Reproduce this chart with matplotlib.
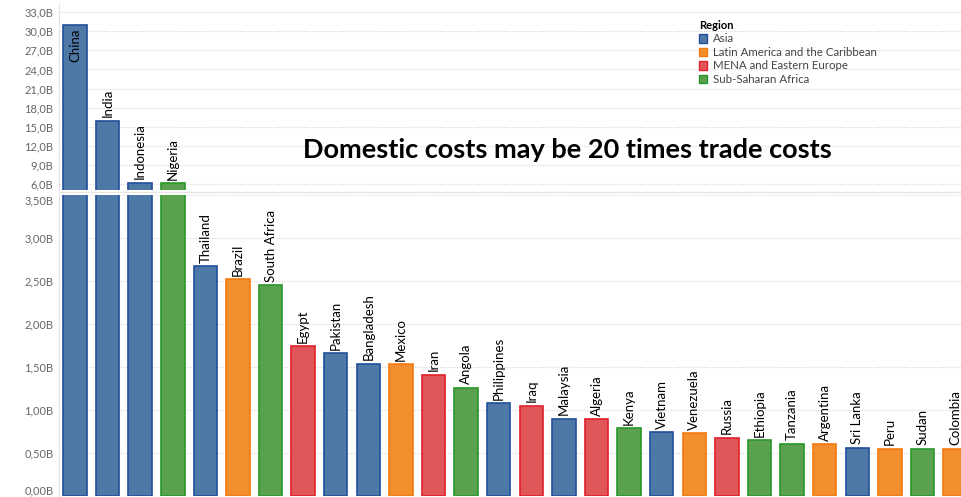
import matplotlib.pyplot as plt
from matplotlib.patches import Patch
from matplotlib.ticker import FixedLocator, FuncFormatter

plt.rcParams['font.family'] = ['Lato', 'DejaVu Sans']

countries = ['China', 'India', 'Indonesia', 'Nigeria', 'Thailand', 'Brazil', 'South Africa',
             'Egypt', 'Pakistan', 'Bangladesh', 'Mexico', 'Iran', 'Angola', 'Philippines',
             'Iraq', 'Malaysia', 'Algeria', 'Kenya', 'Vietnam', 'Venezuela', 'Russia',
             'Ethiopia', 'Tanzania', 'Argentina', 'Sri Lanka', 'Peru', 'Sudan', 'Colombia']
regions = ['Asia', 'Asia', 'Asia', 'SSA', 'Asia', 'LAC', 'SSA',
           'MENA', 'Asia', 'Asia', 'LAC', 'MENA', 'SSA', 'Asia',
           'MENA', 'Asia', 'MENA', 'SSA', 'Asia', 'LAC', 'MENA',
           'SSA', 'SSA', 'LAC', 'Asia', 'LAC', 'SSA', 'LAC']
# costs in billions
values = [31.07, 15.94, 6.2, 6.1, 2.67, 2.52, 2.45,
          1.74, 1.66, 1.54, 1.53, 1.41, 1.26, 1.08,
          1.05, 0.90, 0.89, 0.79, 0.74, 0.73, 0.68,
          0.65, 0.61, 0.60, 0.56, 0.55, 0.55, 0.55]

region_names = {'Asia': 'Asia', 'LAC': 'Latin America and the Caribbean',
                'MENA': 'MENA and Eastern Europe', 'SSA': 'Sub-Saharan Africa'}
fills = {'Asia': '#4e79a7', 'LAC': '#f28e2b', 'MENA': '#e15759', 'SSA': '#59a14f'}
edges = {'Asia': '#1f4f9a', 'LAC': '#f27a10', 'MENA': '#e0202a', 'SSA': '#2a962a'}

top_ticks = [6, 9, 12, 15, 18, 21, 24, 27, 30, 33]
bot_ticks = [0, 0.5, 1.0, 1.5, 2.0, 2.5, 3.0, 3.5]

W, H = 961, 497
fig = plt.figure(figsize=(W / 100, H / 100), dpi=100)


def box(l, t, r, b):
    return [l / W, 1 - b / H, (r - l) / W, (b - t) / H]


ax_top = fig.add_axes(box(59, 4, 961, 190))
ax_bot = fig.add_axes(box(59, 195, 961, 496))

x = list(range(len(countries)))
fc = [fills[r] for r in regions]
ec = [edges[r] for r in regions]

for ax in (ax_top, ax_bot):
    ax.bar(x, values, width=0.72, color=fc, edgecolor=ec, linewidth=1.2, zorder=2)
    ax.set_xlim(-0.49, 27.18)
    ax.set_xticks([])
    ax.yaxis.grid(True, color='#d4d4d4', linestyle=(0, (1, 1.5)), linewidth=0.8)
    ax.set_axisbelow(True)
    for s in ('top', 'right', 'bottom'):
        ax.spines[s].set_visible(False)
    ax.spines['left'].set_color('#e2e2e2')
    ax.tick_params(axis='y', length=0, labelsize=8, labelcolor='#666666', pad=4)

ax_top.set_ylim(5.05, 34.3)
ax_top.yaxis.set_major_locator(FixedLocator(top_ticks))
ax_top.yaxis.set_major_formatter(FuncFormatter(lambda v, p: f'{v:.1f}B'.replace('.', ',')))

ax_bot.set_ylim(0, 3.5)
ax_bot.yaxis.set_major_locator(FixedLocator(bot_ticks))
ax_bot.yaxis.set_major_formatter(FuncFormatter(lambda v, p: f'{v:.2f}B'.replace('.', ',')))

# keep the end labels of the lower scale inside the panel
fig.canvas.draw()
ylabels = ax_bot.get_yticklabels()
ylabels[0].set_verticalalignment('bottom')
ylabels[-1].set_verticalalignment('top')

# country names on top of each bar
for i, (name, v) in enumerate(zip(countries, values)):
    ax = ax_top if v > 5 else ax_bot
    if v > 30:
        ax.annotate(name, (i, v), xytext=(0, -3), textcoords='offset points',
                    rotation=90, ha='center', va='top', fontsize=9.5)
    else:
        ax.annotate(name, (i, v), xytext=(0, 2.5), textcoords='offset points',
                    rotation=90, ha='center', va='bottom', fontsize=9.5)

# separator between the two scales
fig.add_artist(plt.Line2D([59 / W, 1], [1 - 192.5 / H] * 2, color='#e6e6e6', linewidth=1))

handles = [Patch(facecolor=fills[k], edgecolor=edges[k], linewidth=1, label=region_names[k])
           for k in ('Asia', 'LAC', 'MENA', 'SSA')]
leg = fig.legend(handles=handles, title='Region', loc='upper left',
                 bbox_to_anchor=(693 / W, 1 - 14 / H), bbox_transform=fig.transFigure,
                 frameon=False, fontsize=8.3, title_fontsize=8, handlelength=0.75,
                 handleheight=0.75, handletextpad=0.5, labelspacing=0.22, borderpad=0)
leg.get_title().set_fontweight('bold')
leg._legend_box.align = 'left'
for t in leg.get_texts():
    t.set_color('#444444')

fig.text(567 / W, 1 - 150 / H, 'Domestic costs may be 20 times trade costs',
         ha='center', va='center', fontsize=19.5, fontweight='bold')

fig.savefig('out.png', dpi=100)
